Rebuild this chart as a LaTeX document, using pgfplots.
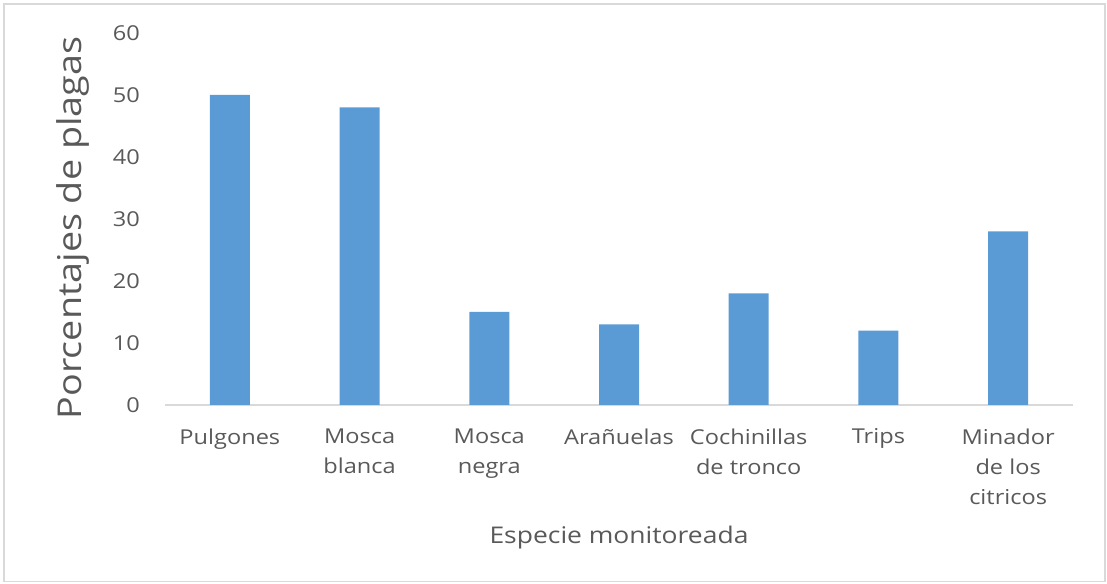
\documentclass[border=0pt]{standalone}
\usepackage{fontspec}
\setmainfont{Open Sans}[FakeStretch=1.15]
\usepackage{pgfplots}
\pgfplotsset{compat=1.18}
\definecolor{barblue}{HTML}{5B9BD5}
\definecolor{txtgray}{HTML}{595959}
\definecolor{linegray}{HTML}{D9D9D9}

\begin{document}
\begin{tikzpicture}[x=1pt,y=1pt]
\path[use as bounding box] (0,0) rectangle (1107,583);
\draw[linegray, line width=1.5pt] (4,1.5) rectangle (1105,579);
\begin{axis}[
    at={(165pt,178pt)}, anchor=south west,
    scale only axis, width=908pt, height=372pt,
    xmin=-0.5, xmax=6.5, ymin=0, ymax=60,
    ytick={0,10,...,60},
    xtick=data,
    xticklabels={Pulgones, {Mosca\\blanca}, {Mosca\\negra}, Arañuelas,
      {Cochinillas\\de tronco}, Trips, {Minador\\de los\\citricos}},
    ybar, bar width=40pt,
    axis lines*=left,
    axis line style={-},
    x axis line style={linegray, line width=1.5pt},
    y axis line style={draw=none},
    major tick length=0pt,
    /pgf/number format/assume math mode=true,
    tick label style={font=\fontsize{20.5}{30}\selectfont, text=txtgray},
    xticklabel style={align=center, anchor=north, inner sep=0pt, yshift=-23.5pt},
    yticklabel style={anchor=east, inner sep=0pt, xshift=-25pt},
    xlabel={Especie monitoreada},
    xlabel style={at={([yshift=-138pt]axis description cs:0.5,0)}, anchor=base,
      font=\fontsize{23}{30}\selectfont, text=txtgray},
    ylabel={Porcentajes de plagas},
    ylabel style={at={([xshift=-83pt]axis description cs:0,0.476)}, anchor=base,
      font=\fontsize{32.8}{38}\selectfont, text=txtgray},
  ]
  \addplot[ybar, fill=barblue, draw=none] coordinates {
    (0,50) (1,48) (2,15) (3,13) (4,18) (5,12) (6,28)
  };
\end{axis}
\end{tikzpicture}
\end{document}
